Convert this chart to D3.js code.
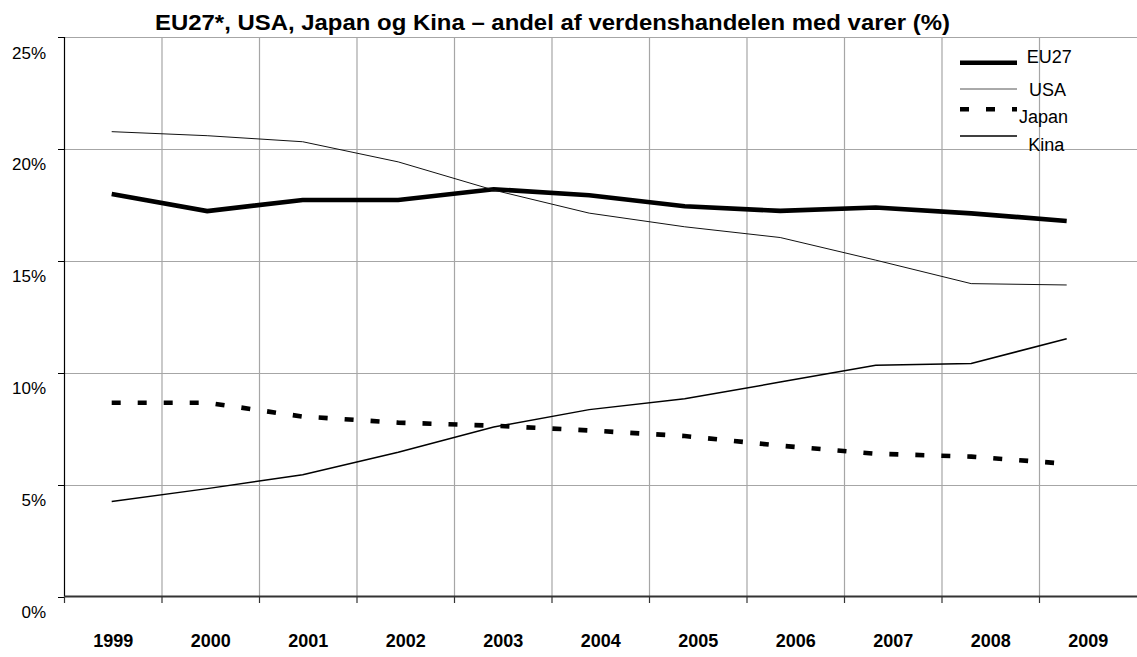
<!DOCTYPE html>
<html>
<head>
<meta charset="utf-8">
<script src="https://cdn.jsdelivr.net/npm/d3@7"></script>
<style>
  body { margin: 0; background: #fff; }
  text { font-family: Arial, "Liberation Sans", sans-serif; fill: #000; }
</style>
</head>
<body>
<script>
// chart data (share of world merchandise trade, %)
var years = ["1999", "2000", "2001", "2002", "2003", "2004", "2005", "2006", "2007", "2008", "2009"];
var eu27  = [17.98, 17.22, 17.72, 17.72, 18.20, 17.93, 17.44, 17.23, 17.38, 17.12, 16.78];
var usa   = [20.77, 20.59, 20.32, 19.42, 18.16, 17.13, 16.52, 16.04, 15.03, 13.98, 13.92];
var japan = [8.66, 8.66, 8.04, 7.77, 7.63, 7.42, 7.17, 6.74, 6.38, 6.25, 5.93];
var kina  = [4.25, 4.82, 5.44, 6.45, 7.57, 8.35, 8.84, 9.58, 10.33, 10.41, 11.52];
var seriesNames = ["EU27", "USA", "Japan", "Kina"];
var yTicks = [0, 5, 10, 15, 20, 25];
var title = "EU27*, USA, Japan og Kina \u2013 andel af verdenshandelen med varer (%)";

var width = 1137, height = 657;

var svg = d3.select("body").append("svg")
    .attr("width", width)
    .attr("height", height);

// scales
var x = d3.scaleBand().domain(years).range([64.5, 1137]);
var xLine = d3.scalePoint().domain(years).range([111.7, 1066.7]);
var y = d3.scaleLinear().domain([0, 25]).range([596.5, 37]);

// gridlines
var grid = svg.append("g");
grid.selectAll("line.h")
    .data(yTicks.slice(1))
    .enter().append("line")
    .attr("x1", 64.5).attr("x2", width)
    .attr("y1", function(d) { return Math.round(y(d)) + 0.5; })
    .attr("y2", function(d) { return Math.round(y(d)) + 0.5; })
    .attr("stroke", "#a6a6a6").attr("stroke-width", 1.2);
grid.selectAll("line.v")
    .data(years.slice(1))
    .enter().append("line")
    .attr("x1", function(d) { return x(d); })
    .attr("x2", function(d) { return x(d); })
    .attr("y1", y(25)).attr("y2", y(0))
    .attr("stroke", "#a6a6a6").attr("stroke-width", 1.2);

// left axis
svg.append("line")
    .attr("x1", 64.5).attr("x2", 64.5)
    .attr("y1", y(25)).attr("y2", y(0))
    .attr("stroke", "#000").attr("stroke-width", 1.2);
svg.selectAll("line.ytick")
    .data(yTicks)
    .enter().append("line")
    .attr("x1", 58).attr("x2", 64.5)
    .attr("y1", function(d) { return Math.round(y(d)) + 0.5; })
    .attr("y2", function(d) { return Math.round(y(d)) + 0.5; })
    .attr("stroke", "#000");
svg.selectAll("text.ylab")
    .data(yTicks)
    .enter().append("text")
    .attr("x", 46)
    .attr("y", function(d) { return y(d) + 21.5; })
    .attr("text-anchor", "end")
    .style("font-size", "17px")
    .text(function(d) { return d + "%"; });

// bottom axis
svg.append("line")
    .attr("x1", 64.5).attr("x2", width)
    .attr("y1", y(0)).attr("y2", y(0))
    .attr("stroke", "#333").attr("stroke-width", 1.8);
svg.selectAll("line.xtick")
    .data(years)
    .enter().append("line")
    .attr("x1", function(d) { return x(d); })
    .attr("x2", function(d) { return x(d); })
    .attr("y1", y(0)).attr("y2", y(0) + 6.5)
    .attr("stroke", "#333").attr("stroke-width", 1.2);
svg.selectAll("text.xlab")
    .data(years)
    .enter().append("text")
    .attr("x", function(d) { return x(d) + x.bandwidth() / 2; })
    .attr("y", 646.5)
    .attr("text-anchor", "middle")
    .style("font-size", "18px")
    .style("font-weight", "bold")
    .text(function(d) { return d; });

// series lines
var styles = {
  "EU27":  { data: eu27,  width: 4.6, color: "#000", dash: null },
  "USA":   { data: usa,   width: 1,   color: "#111", dash: null },
  "Japan": { data: japan, width: 4.6, color: "#000", dash: "9,17" },
  "Kina":  { data: kina,  width: 1.5, color: "#000", dash: null }
};
var line = d3.line()
    .x(function(d, i) { return xLine(years[i]); })
    .y(function(d) { return y(d); });

seriesNames.forEach(function(name) {
  var s = styles[name];
  svg.append("path")
      .datum(s.data)
      .attr("d", line)
      .attr("fill", "none")
      .attr("stroke", s.color)
      .attr("stroke-width", s.width)
      .attr("stroke-dasharray", s.dash);
});

// legend
var legendLineY = [62.7, 89, 109.3, 136];
var legendTextX = [1026.7, 1029, 1019, 1028.3];
var legendTextY = [63.3, 96, 122.7, 150.7];
seriesNames.forEach(function(name, i) {
  var s = styles[name];
  svg.append("line")
      .attr("x1", 960).attr("x2", 1017)
      .attr("y1", legendLineY[i]).attr("y2", legendLineY[i])
      .attr("stroke", name == "USA" ? "#555" : s.color)
      .attr("stroke-width", s.width)
      .attr("stroke-dasharray", s.dash);
  svg.append("text")
      .attr("x", legendTextX[i])
      .attr("y", legendTextY[i])
      .style("font-size", "18px")
      .text(name);
});

// title
svg.append("text")
    .attr("x", 155)
    .attr("y", 29.5)
    .attr("textLength", 795)
    .attr("lengthAdjust", "spacingAndGlyphs")
    .style("font-size", "22px")
    .style("font-weight", "bold")
    .text(title);
</script>
</body>
</html>
